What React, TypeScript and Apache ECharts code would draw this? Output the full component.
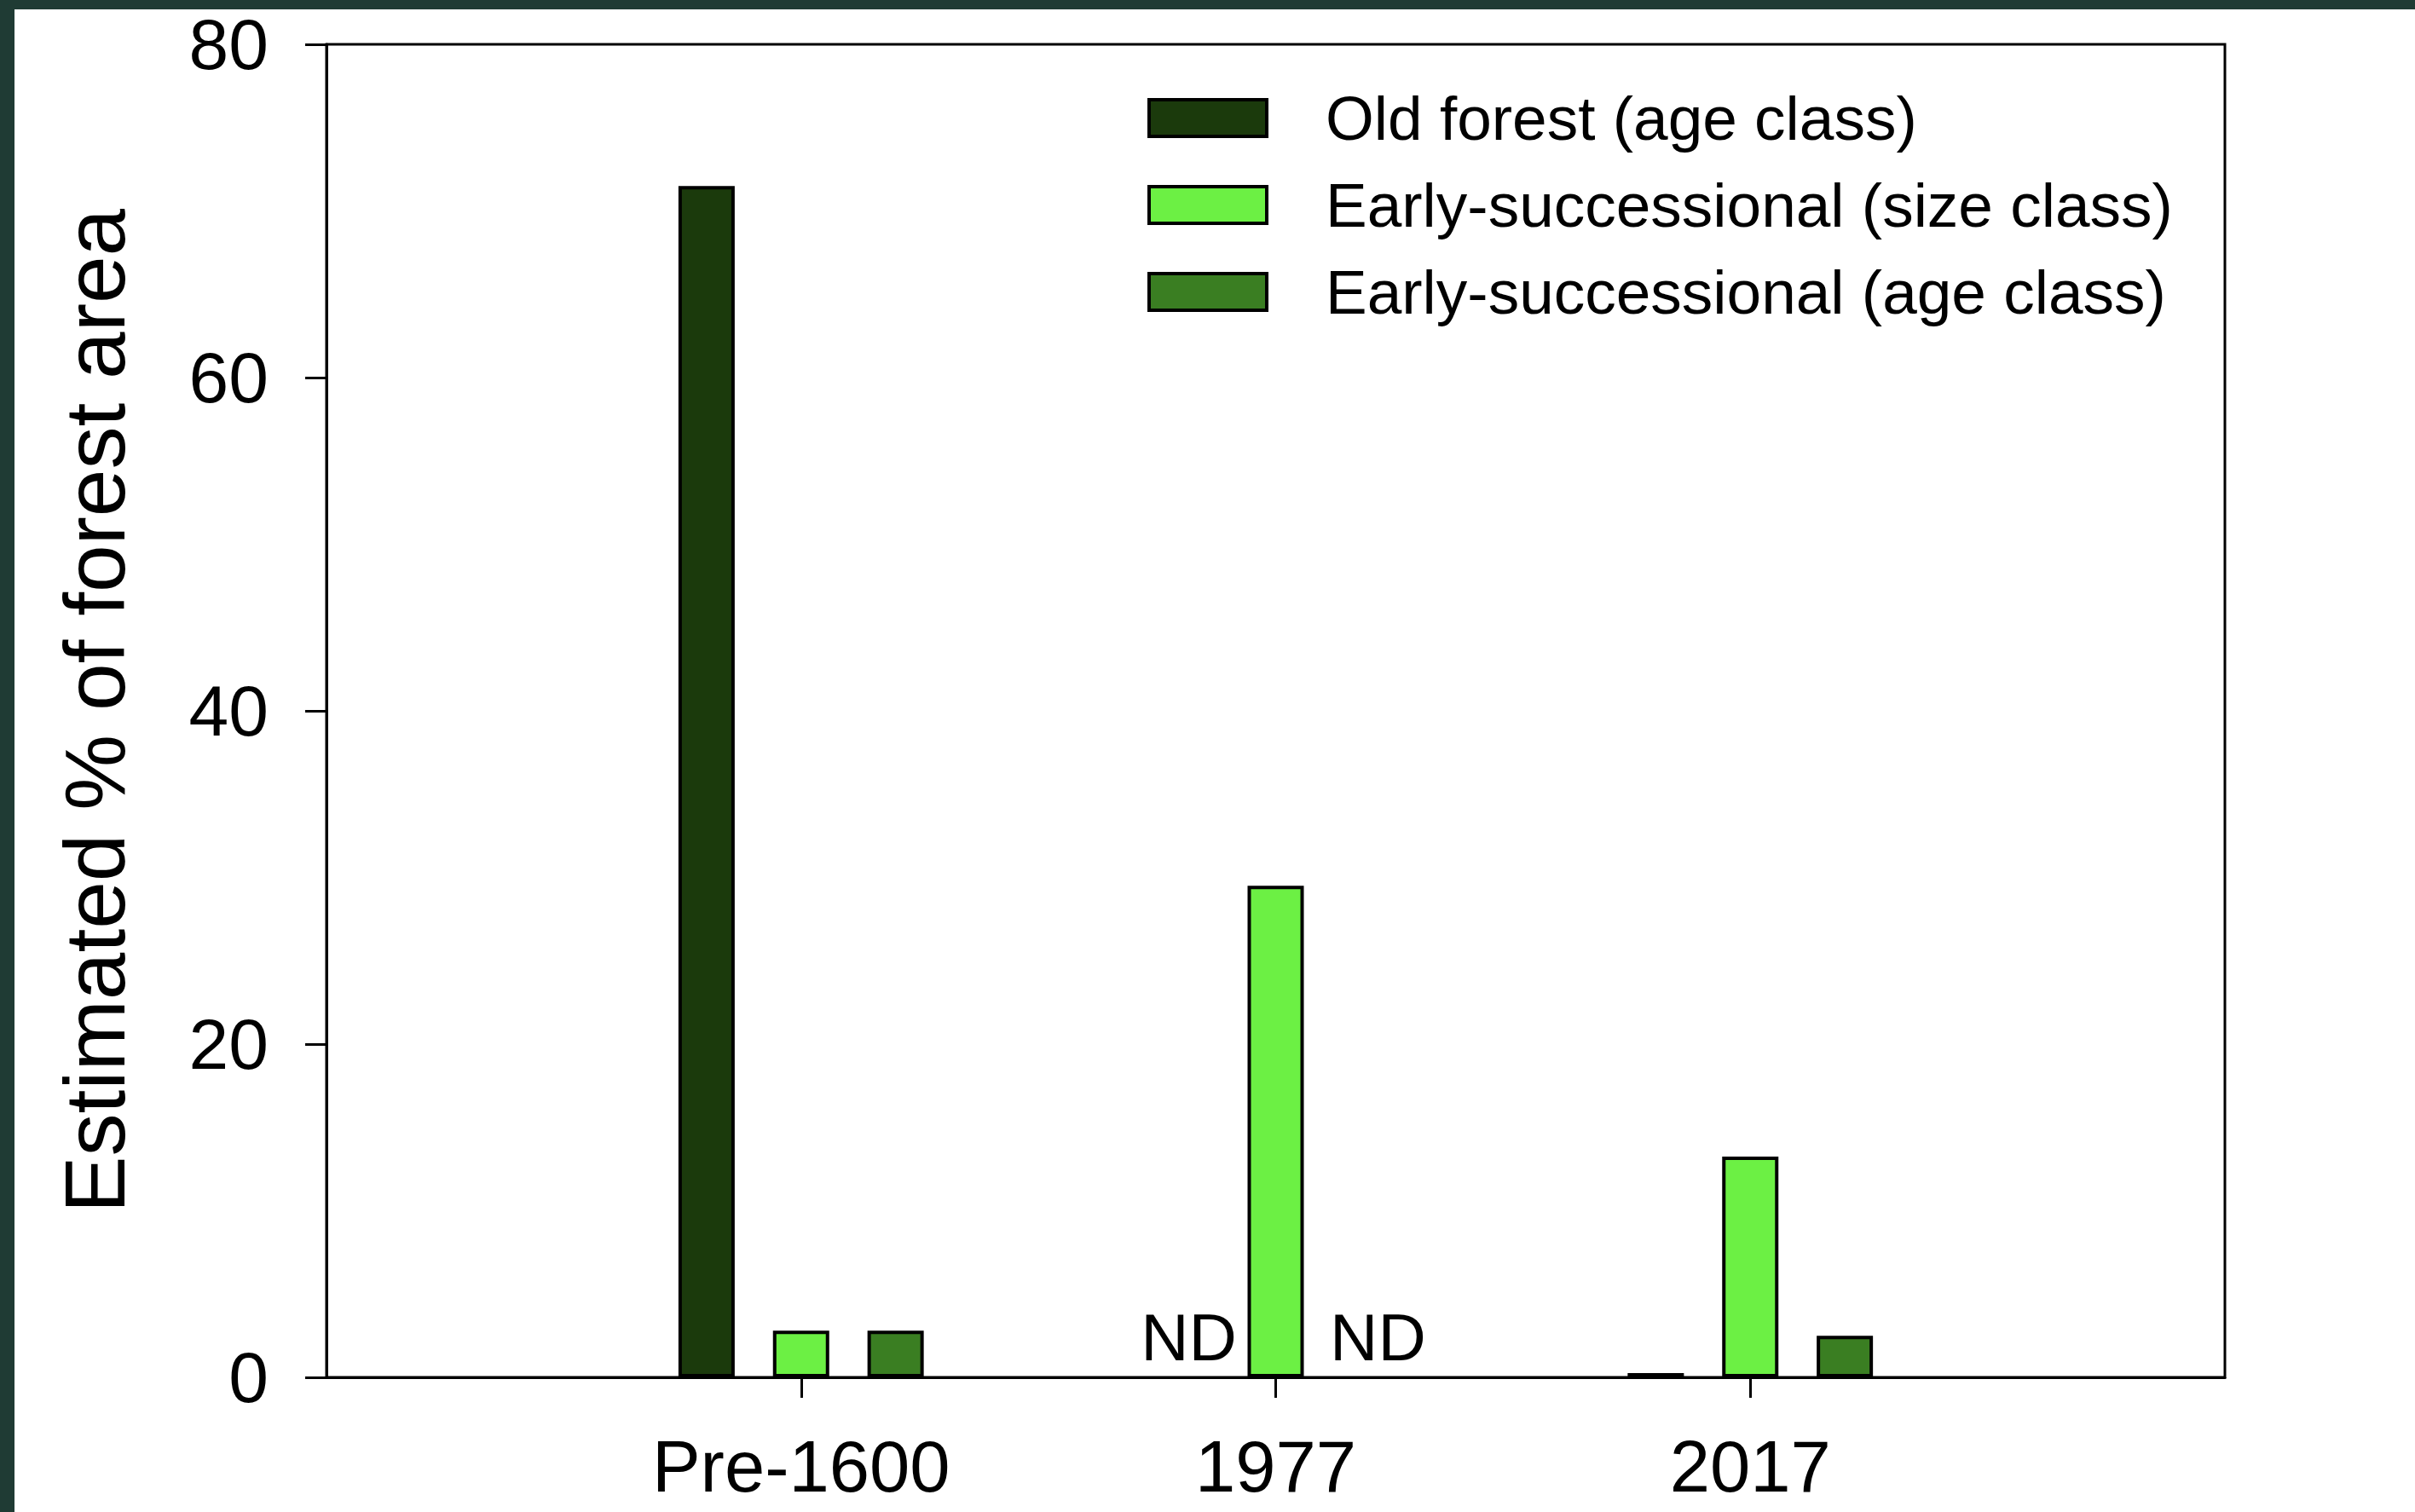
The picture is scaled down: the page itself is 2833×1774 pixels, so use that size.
import React, { useEffect, useRef } from "react";
import * as echarts from "echarts";

const categories = ["Pre-1600", "1977", "2017"];
const seriesNames = [
  "Old forest (age class)",
  "Early-successional (size class)",
  "Early-successional (age class)",
];
// null = no data (ND)
const oldForestAge = [71.5, null, 0.25];
const earlySize = [2.8, 29.5, 13.25];
const earlyAge = [2.8, null, 2.5];
const yTicks = [0, 20, 40, 60, 80];

const colors = ["#1b3a0c", "#6cf044", "#3a7e22"];
const FONT = "'Liberation Sans', Arial, sans-serif";

export default function App() {
  const ref = useRef<HTMLDivElement>(null);
  useEffect(() => {
    if (!ref.current) return;
    const chart = echarts.init(ref.current, null, { renderer: "svg" });
    const axisCats = ["", ...categories, ""];
    const pad = (arr: (number | null)[]) => [null, ...arr, null];
    const build = (arr: (number | null)[]) =>
      pad(arr).map((v, i) => {
        if (i === 0 || i === axisCats.length - 1) return null;
        if (v === null) {
          return {
            value: 0,
            itemStyle: { color: "transparent", borderWidth: 0 },
            label: {
              show: true,
              position: "top",
              distance: 8,
              offset: [9, 0],
              formatter: "ND",
              fontSize: 78,
              fontFamily: FONT,
              color: "#000",
            },
          };
        }
        return v;
      });
    const dataSets = [oldForestAge, earlySize, earlyAge];
    chart.setOption({
      animation: false,
      backgroundColor: "#ffffff",
      textStyle: { fontFamily: FONT },
      graphic: [
        { type: "rect", shape: { x: 0, y: 0, width: 2833, height: 11 }, style: { fill: "#1f3b34" }, z: 100 },
        { type: "rect", shape: { x: 0, y: 0, width: 17, height: 1774 }, style: { fill: "#1f3b34" }, z: 100 },
      ],
      grid: {
        left: 383,
        top: 52,
        right: 223,
        bottom: 158,
        show: true,
        borderColor: "#000",
        borderWidth: 3,
        backgroundColor: "transparent",
      },
      legend: {
        orient: "vertical",
        left: 1341,
        top: 97,
        itemWidth: 138,
        itemHeight: 43,
        itemGap: 29,
        icon: "rect",
        selectedMode: false,
        data: seriesNames,
        itemStyle: { borderColor: "#000", borderWidth: 4 },
        textStyle: {
          fontSize: 73,
          fontFamily: FONT,
          color: "#000",
          padding: [0, 0, 0, 64],
        },
      },
      xAxis: {
        type: "category",
        data: axisCats,
        boundaryGap: false,
        axisLine: { show: true, lineStyle: { color: "#000", width: 3 } },
        axisTick: {
          show: true,
          length: 24,
          lineStyle: { color: "#000", width: 3 },
          interval: (i: number, v: string) => v !== "",
        },
        axisLabel: {
          fontSize: 85,
          fontFamily: FONT,
          color: "#000",
          margin: 62,
          interval: 0,
        },
        splitLine: { show: false },
      },
      yAxis: {
        type: "value",
        min: 0,
        max: 80,
        interval: 20,
        name: "Estimated % of forest area",
        nameLocation: "middle",
        nameGap: 222,
        nameTextStyle: { fontSize: 100, fontFamily: FONT, color: "#000" },
        axisLine: { show: true, lineStyle: { color: "#000", width: 3 } },
        axisTick: { show: true, length: 25, lineStyle: { color: "#000", width: 3 } },
        axisLabel: {
          fontSize: 84,
          fontFamily: FONT,
          color: "#000",
          margin: 68,
          formatter: (v: number) => (yTicks.includes(v) ? String(v) : ""),
        },
        splitLine: { show: false },
      },
      series: seriesNames.map((name, k) => ({
        name,
        type: "bar",
        barWidth: 66,
        barGap: "68%",
        data: build(dataSets[k]),
        itemStyle: { color: colors[k], borderColor: "#000", borderWidth: 4 },
      })),
    });
    return () => chart.dispose();
  }, []);
  return (
    <div
      ref={ref}
      style={{ position: "fixed", left: 0, top: 0, width: 2833, height: 1774 }}
    />
  );
}
